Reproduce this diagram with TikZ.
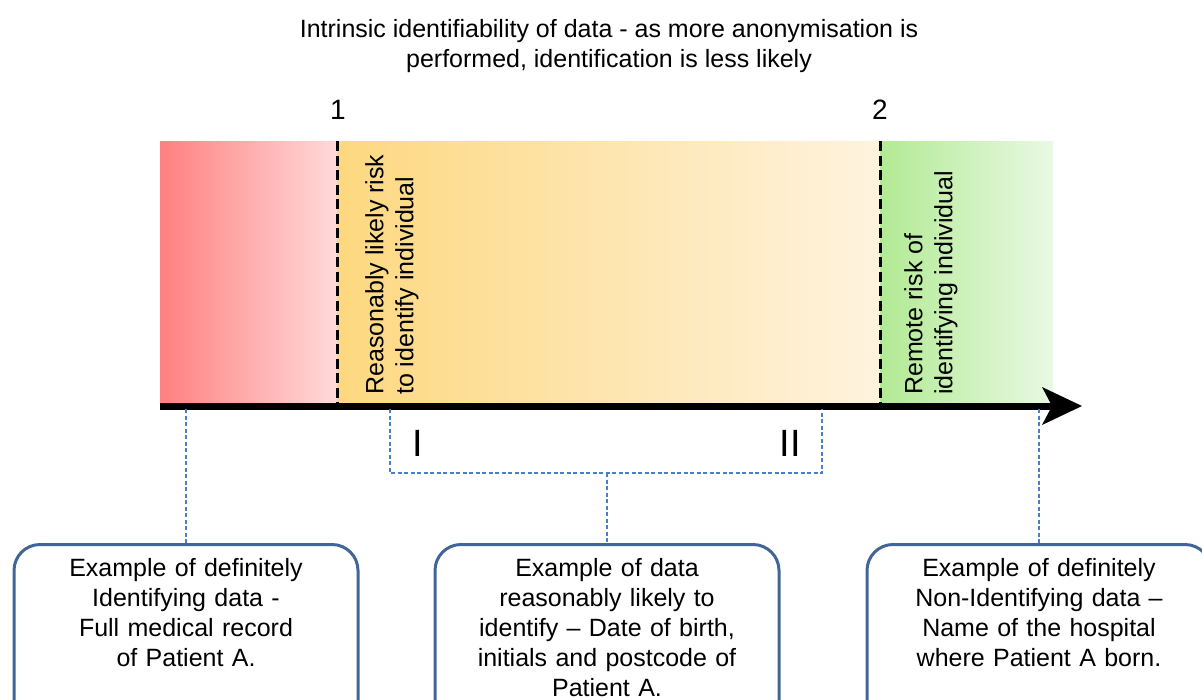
\documentclass[tikz,border=0pt]{standalone}
\usepackage{fontspec}
\setmainfont{Liberation Sans}
\usetikzlibrary{arrows.meta,positioning}

\definecolor{redL}{RGB}{255,128,128}
\definecolor{redR}{RGB}{255,218,218}
\definecolor{ambL}{RGB}{253,216,128}
\definecolor{ambR}{RGB}{255,243,223}
\definecolor{grnL}{RGB}{178,234,148}
\definecolor{grnR}{RGB}{233,249,227}
\definecolor{linkblue}{RGB}{74,126,198}
\definecolor{boxedge}{RGB}{64,102,152}

\tikzset{
  exbox/.style={draw=boxedge, line width=3pt, rounded corners=26pt, fill=white,
    anchor=north, text width=320pt, align=center, inner xsep=12pt, inner ysep=14pt,
    text height=18pt, text depth=170pt, font=\fontsize{25}{30}\selectfont},
  link/.style={draw=linkblue, line width=1.3pt, dash pattern=on 4pt off 2.5pt},
  limit/.style={line width=3pt, dash pattern=on 10pt off 4.5pt},
  sidetext/.style={rotate=90, anchor=north west, align=left, inner sep=0pt,
    font=\fontsize{25}{30}\selectfont},
  bignum/.style={inner sep=0pt, font=\fontsize{28}{30}\selectfont},
  roman/.style={inner sep=0pt, font=\fontsize{38}{40}\selectfont}
}

\begin{document}
\begin{tikzpicture}[x=1pt, y=-1pt]
  \useasboundingbox (0,0) rectangle (1202,699);
  % title
  \node[align=center, anchor=north, inner sep=0pt, font=\fontsize{25}{30}\selectfont] (title) at (609,19)
    {Intrinsic identifiability of data - as more anonymisation is\\performed, identification is less likely};
  % coloured bands
  \shade[left color=redL, right color=redR] (160,141) rectangle (337,406);
  \shade[left color=ambL, right color=ambR] (337,141) rectangle (880,406);
  \shade[left color=grnL, right color=grnR] (880,141) rectangle (1053,406);
  % thresholds 1 and 2
  \draw[limit] (337,141) -- (337,406);
  \draw[limit] (880,141) -- (880,406);
  \node[bignum] (one) at (338,110) {1};
  \node[bignum] (two) at (880,110) {2};
  \node[sidetext] (likely) at (365,395) {Reasonably likely risk\\to identify individual};
  \node[sidetext] (remote) at (904,395) {Remote risk of\\identifying individual};
  % axis
  \draw[line width=7pt, -{Stealth[length=40pt, width=38pt, inset=10pt, line width=0pt]}] (160,406) -- (1082,406);
  % range I .. II
  \node[roman] (rI) at (418,443) {I};
  \node[roman] (rII) at (790,443) {II};
  \coordinate (brkL) at (390,409);
  \coordinate (brkR) at (822,409);
  \draw[link] (brkL) -- ++(0,64) -| (brkR);
  % examples
  \node[exbox] (defid) at (186,543) {Example of definitely\\Identifying data -\\Full medical record\\of Patient A.};
  \node[exbox] (likelyid) at (607,543) {Example of data\\reasonably likely to\\identify -- Date of birth,\\initials and postcode of\\Patient A.};
  \node[exbox] (nonid) at (1039,543) {Example of definitely\\Non-Identifying data --\\Name of the hospital\\where Patient A born.};
  \draw[link] (defid.north |- 0,409) -- (defid.north);
  \draw[link] (likelyid.north |- 0,473) -- (likelyid.north);
  \draw[link] (nonid.north |- 0,409) -- (nonid.north);
\end{tikzpicture}
\end{document}
